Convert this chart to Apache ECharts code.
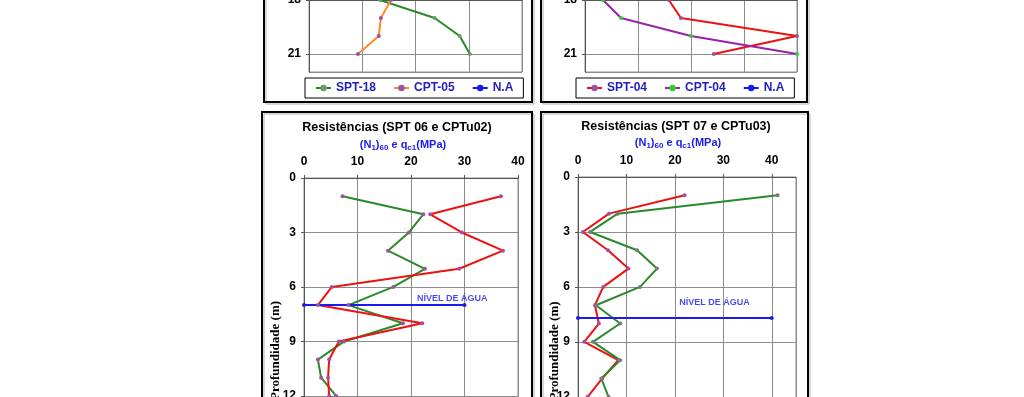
<!DOCTYPE html>
<html>
<head>
<meta charset="utf-8">
<script src="https://cdn.jsdelivr.net/npm/echarts@6/dist/echarts.min.js"></script>
<style>
  html, body { margin: 0; padding: 0; background: #fff; }
  #chart { width: 1024px; height: 397px; }
</style>
</head>
<body>
<div id="chart"></div>
<script>
// profundidades (m)
const depthTop = [18, 19, 20, 21];
const depthBottom = [1, 2, 3, 4, 5, 6, 7, 8, 9, 10, 11, 12];

// SPT-18 e CPT-05 (parte visivel)
const spt18 = [13.3, 23.6, 28.3, 30.2];
const cpt05 = [15.4, 13.5, 13.1, 9.2];
// SPT-04 e CPT-04 (parte visivel)
const spt04 = [15.8, 18.1, 40, 24.3];
const cpt04 = [3.4, 6.8, 20, 40];

// SPT 06 e CPTu02
const spt06 = [7.2, 22.3, 19.6, 15.7, 22.6, 16.7, 8.3, 18.5, 7.5, 2.6, 3.2, 6.0];
const cptu02 = [36.8, 23.6, 29.5, 37.2, 29.0, 5.2, 2.6, 22.1, 6.5, 4.7, 4.5, 4.7];
// SPT 07 e CPTu03
const spt07 = [22.0, 6.4, 1.0, 6.2, 10.4, 5.2, 3.5, 4.3, 1.3, 8.3, 5.0, 2.0];
const cptu03 = [41.2, 8.2, 2.5, 12.2, 16.3, 12.8, 3.7, 8.7, 3.1, 8.7, 4.8, 6.3];

// nivel de agua: [x inicial, x final], profundidade
const naRange06 = [0, 30];
const naDepth06 = 7;
const naRange07 = [0, 40];
const naDepth07 = 7.7;
// posicao do texto "NÍVEL DE ÁGUA" [x, profundidade]
const naText06 = [27.7, 6.65];
const naText07 = [28.2, 6.85];

const font = 'Liberation Sans, Arial, sans-serif';
const green = '#2a8a2a', orange = '#ff8a2a', red = '#ee1111', purple = '#9922aa', blue = '#1a1aee';
const markPurple = '#a050a0';

function pairs(vals, depths) {
  return vals.map((v, i) => [v, depths[i]]);
}

function xAx(gridIndex, max) {
  return {
    gridIndex: gridIndex, type: 'value', position: 'top', min: 0, max: max, interval: 10,
    axisLine: {show: true, lineStyle: {color: '#555'}},
    axisTick: {show: true, length: 3, lineStyle: {color: '#555'}},
    axisLabel: {margin: 10, color: '#000', fontWeight: 'bold', fontSize: 12, fontFamily: font, showMaxLabel: max % 10 === 0},
    splitLine: {lineStyle: {color: '#8c8c8c'}}
  };
}

function yAx(gridIndex, min, max, name, gap) {
  return {
    gridIndex: gridIndex, type: 'value', inverse: true, min: min, max: max, interval: 3,
    name: name || '', nameLocation: 'middle', nameGap: gap || 20, nameRotate: 90, nameMoveOverlap: false,
    nameTextStyle: {fontFamily: 'Liberation Serif, Times New Roman, serif', fontWeight: 'bold', fontSize: 13, color: '#000'},
    axisLine: {show: true, lineStyle: {color: '#555'}},
    axisTick: {show: true, length: 3, lineStyle: {color: '#555'}},
    axisLabel: {margin: 8, color: '#000', fontWeight: 'bold', fontSize: 12, fontFamily: font, showMaxLabel: false},
    splitLine: {lineStyle: {color: '#8c8c8c'}}
  };
}

function line(name, data, axis, color, markColor) {
  return {
    name: name, type: 'line', xAxisIndex: axis, yAxisIndex: axis, data: data,
    symbol: 'circle', symbolSize: 4, showSymbol: true,
    lineStyle: {color: color, width: 2},
    itemStyle: {color: markColor || color},
    color: color,
    animation: false
  };
}

function naLine(name, range, depth, axis) {
  return line(name, range.map(x => [x, depth]), axis, blue, blue);
}

function naLabel(pos, axis) {
  return {
    type: 'scatter', xAxisIndex: axis, yAxisIndex: axis, data: [pos], symbolSize: 0, silent: true,
    label: {show: true, position: 'inside', formatter: 'NÍVEL DE ÁGUA', color: blue, fontWeight: 'bold', fontSize: 9, fontFamily: font},
    animation: false
  };
}

const subRich = {
  n: {fontSize: 11, fontWeight: 'bold', fontFamily: font, fill: blue, color: blue},
  s: {fontSize: 8, fontWeight: 'bold', fontFamily: font, fill: blue, color: blue, padding: [5, 0, 0, 0]}
};
const subText = '{n|(N}{s|1}{n|)}{s|60}{n| e q}{s|c1}{n|(MPa)}';

function frame(x, y, w, h) {
  return {type: 'rect', shape: {x: x, y: y, width: w, height: h},
    style: {fill: null, stroke: '#000', lineWidth: 2}, z: 10};
}
function shadow(x, y, w, h) {
  return {type: 'rect', shape: {x: x, y: y, width: w, height: h},
    style: {fill: null, stroke: '#b0b0b0', lineWidth: 1}, z: 9};
}
function titleText(x, y, text) {
  return {type: 'text', x: x, y: y, z: 10,
    style: {text: text, align: 'center', verticalAlign: 'middle', fill: '#000', fontSize: 12.5, fontWeight: 'bold', fontFamily: font}};
}
function subTitle(x, y) {
  return {type: 'text', x: x, y: y, z: 10,
    style: {text: subText, rich: subRich, align: 'center', verticalAlign: 'middle', fill: blue}};
}

const legendBase = {
  orient: 'horizontal', top: 78, borderColor: '#000', borderWidth: 1, padding: [4, 10, 4, 10],
  itemGap: 17, itemWidth: 15, itemHeight: 8,
  textStyle: {color: '#1f1fbf', fontWeight: 'bold', fontSize: 12, fontFamily: font}
};

const gridBase = {show: true, borderColor: '#8c8c8c', borderWidth: 1, containLabel: false, outerBoundsMode: 'none'};

const chart = echarts.init(document.getElementById('chart'));
chart.setOption({
  backgroundColor: '#fff',
  animation: false,
  grid: [
    Object.assign({left: 309, top: 0, width: 213, height: 72}, gridBase),
    Object.assign({left: 585, top: 0, width: 212, height: 72}, gridBase),
    Object.assign({left: 304, top: 178, width: 214, height: 345}, gridBase),
    Object.assign({left: 578, top: 177, width: 218, height: 348}, gridBase)
  ],
  xAxis: [xAx(0, 40), xAx(1, 40), xAx(2, 40), xAx(3, 45)],
  yAxis: [yAx(0, 18, 22), yAx(1, 18, 22), yAx(2, 0, 19, 'Profundidade (m)', 22), yAx(3, 0, 19, 'Profundidade (m)', 17)],
  legend: [
    Object.assign({}, legendBase, {left: 305, data: ['SPT-18', 'CPT-05', 'N.A']}),
    Object.assign({}, legendBase, {left: 576, data: ['SPT-04', 'CPT-04', 'N.A']})
  ],
  series: [
    line('SPT-18', pairs(spt18, depthTop), 0, green, '#6a9a6a'),
    line('CPT-05', pairs(cpt05, depthTop), 0, orange, markPurple),
    line('N.A', [], 0, blue, blue),
    line('SPT-04', pairs(spt04, depthTop), 1, red, markPurple),
    line('CPT-04', pairs(cpt04, depthTop), 1, purple, '#33cc33'),
    line('SPT-06', pairs(spt06, depthBottom), 2, green, markPurple),
    line('CPTu-02', pairs(cptu02, depthBottom), 2, red, markPurple),
    naLine('NA-06', naRange06, naDepth06, 2),
    naLabel(naText06, 2),
    line('SPT-07', pairs(spt07, depthBottom), 3, red, markPurple),
    line('CPTu-03', pairs(cptu03, depthBottom), 3, green, '#7a7a7a'),
    naLine('NA-07', naRange07, naDepth07, 3),
    naLabel(naText07, 3)
  ],
  graphic: [
    frame(264, -10, 268, 112), shadow(266, -8, 268, 112),
    frame(541, -10, 266, 112), shadow(543, -8, 266, 112),
    frame(262, 112, 270, 300), shadow(264, 114, 270, 300),
    frame(541, 112, 267, 300), shadow(543, 114, 267, 300),
    titleText(397, 128, 'Resistências (SPT 06 e CPTu02)'),
    titleText(676, 127, 'Resistências (SPT 07 e CPTu03)'),
    subTitle(403, 145),
    subTitle(678, 143)
  ]
});
</script>
</body>
</html>
